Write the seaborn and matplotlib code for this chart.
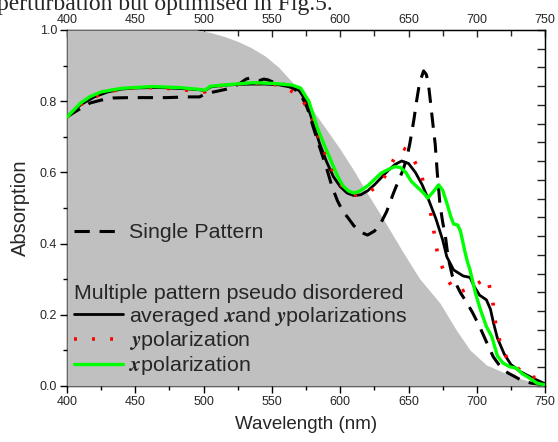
import numpy as np
import pandas as pd
import matplotlib
matplotlib.use("Agg")
import matplotlib.pyplot as plt
import seaborn as sns

sns.set_style("ticks")
plt.rcParams["font.family"] = ["Liberation Sans", "DejaVu Sans"]
plt.rcParams["mathtext.fontset"] = "stix"

# ---- data ----
gray_wl = [400, 480, 495, 505, 515, 525, 535, 545, 555, 565, 578, 590, 600, 610, 620,
           632, 645, 658, 673, 685, 695, 707, 724, 739, 750]
gray_val = [1.0, 1.0, 1.0, 0.993, 0.982, 0.968, 0.95, 0.927, 0.895, 0.853, 0.785, 0.72,
            0.665, 0.605, 0.54, 0.466, 0.382, 0.302, 0.233, 0.157, 0.101, 0.059, 0.031,
            0.012, 0.0]

single_wl = [400, 408, 417, 425, 434, 445, 456, 473, 488, 497, 502, 510, 517, 522, 527,
             531, 534, 538, 541, 544, 547, 550, 556, 561, 566, 571, 576, 580, 585, 590,
             594, 598, 602, 605, 610, 615, 620, 625, 629, 634, 639, 643, 646, 649, 651,
             654, 656, 658, 661, 663, 664.5, 666, 668, 669.5, 671, 673, 675, 677, 679,
             682, 685, 688, 693, 697, 702, 707, 712, 718, 723, 728, 734, 740, 746, 750]
single_val = [0.756, 0.775, 0.795, 0.803, 0.809, 0.81, 0.81, 0.81, 0.812, 0.812, 0.822,
              0.828, 0.834, 0.84, 0.851, 0.862, 0.865, 0.86, 0.858, 0.862, 0.86, 0.855,
              0.85, 0.845, 0.835, 0.82, 0.78, 0.73, 0.67, 0.612, 0.56, 0.52, 0.49, 0.476,
              0.45, 0.432, 0.424, 0.435, 0.452, 0.49, 0.542, 0.58, 0.607, 0.645, 0.682,
              0.75, 0.803, 0.85, 0.885, 0.875, 0.85, 0.8, 0.73, 0.68, 0.6, 0.51, 0.46,
              0.42, 0.36, 0.31, 0.285, 0.262, 0.232, 0.205, 0.167, 0.124, 0.082, 0.05,
              0.036, 0.026, 0.013, 0.008, 0.005, 0.004]

avg_wl = [400, 410, 420, 430, 440, 450, 460, 470, 480, 490, 497, 501, 505, 515, 525, 535,
          545, 555, 563, 570, 575, 580, 585, 590, 595, 600, 605, 610, 615, 620, 625, 630,
          635, 640, 645, 650, 655, 660, 665, 670, 675, 678, 683, 690, 695, 698, 702, 707,
          710, 712, 715, 720, 725, 732, 741, 750]
avg_val = [0.755, 0.79, 0.812, 0.826, 0.834, 0.837, 0.838, 0.838, 0.836, 0.834, 0.832,
           0.83, 0.84, 0.845, 0.847, 0.848, 0.848, 0.846, 0.84, 0.83, 0.80, 0.74, 0.68,
           0.63, 0.588, 0.56, 0.542, 0.535, 0.537, 0.548, 0.565, 0.585, 0.605, 0.622,
           0.632, 0.625, 0.600, 0.565, 0.52, 0.47, 0.41, 0.363, 0.326, 0.309, 0.305, 0.28,
           0.255, 0.242, 0.215, 0.18, 0.135, 0.09, 0.06, 0.04, 0.022, 0.006]

ypol_wl = [400, 410, 420, 430, 440, 450, 460, 470, 480, 490, 497, 501, 505, 515, 525, 535,
           545, 555, 563, 568, 573, 579, 585, 590, 595, 599, 603, 607, 612, 617, 622, 627,
           631, 634, 639, 643, 646, 650, 653, 656, 659, 664, 666, 668, 671, 674, 678, 684,
           688, 693, 697, 701, 705, 708, 710, 712, 713, 715, 718, 722, 726, 730, 734, 738,
           743, 748, 750]
ypol_val = [0.755, 0.79, 0.812, 0.826, 0.834, 0.837, 0.838, 0.837, 0.834, 0.83, 0.826,
            0.826, 0.838, 0.845, 0.848, 0.85, 0.85, 0.845, 0.831, 0.82, 0.799, 0.761, 0.69,
            0.644, 0.60, 0.574, 0.552, 0.539, 0.536, 0.539, 0.548, 0.56, 0.578, 0.598,
            0.635, 0.66, 0.668, 0.66, 0.64, 0.62, 0.598, 0.528, 0.49, 0.447, 0.377, 0.34,
            0.303, 0.265, 0.265, 0.272, 0.28, 0.289, 0.298, 0.303, 0.265, 0.228, 0.191,
            0.153, 0.107, 0.079, 0.062, 0.05, 0.037, 0.026, 0.024, 0.02, 0.008]

xpol_wl = [400, 410, 417, 425, 432, 440, 448, 463, 483, 497, 501, 505, 520, 536, 550, 557,
           565, 571, 577, 583, 588, 593, 598, 602, 606, 610, 614, 620, 625, 630, 635, 640,
           644, 648, 652, 656, 661, 664, 668, 672, 675, 678, 681, 683, 686, 688, 691, 693,
           695, 699, 703, 707, 711, 715, 719, 724, 729, 733, 737, 744, 750]
xpol_val = [0.755, 0.795, 0.813, 0.826, 0.831, 0.836, 0.838, 0.841, 0.838, 0.833, 0.831,
            0.842, 0.847, 0.852, 0.85, 0.848, 0.845, 0.837, 0.80, 0.728, 0.68, 0.635, 0.59,
            0.562, 0.548, 0.542, 0.547, 0.562, 0.58, 0.598, 0.608, 0.616, 0.614, 0.60,
            0.575, 0.56, 0.542, 0.528, 0.545, 0.565, 0.55, 0.514, 0.475, 0.455, 0.452,
            0.435, 0.382, 0.35, 0.326, 0.26, 0.21, 0.167, 0.138, 0.085, 0.065, 0.054, 0.05,
            0.035, 0.026, 0.008, 0.003]

x_ticks = [400, 450, 500, 550, 600, 650, 700, 750]
y_ticks = [0.0, 0.2, 0.4, 0.6, 0.8, 1.0]

label_single = "Single Pattern"
legend_title = "Multiple pattern pseudo disordered"
label_avg = r"averaged $\mathbfit{x}$and $\mathbfit{y}$polarizations"
label_y = r"$\mathbfit{y}$polarization"
label_x = r"$\mathbfit{x}$polarization"
top_text = "perturbation but optimised in Fig.5."

# ---- figure ----
fig = plt.figure(figsize=(5.58, 4.42), dpi=100)
ax = fig.add_axes([0.120, 0.1267, 0.857, 0.8055])

ax.fill_between(gray_wl, 0, gray_val, color="#c0c0c0", lw=0, zorder=0.5)

sns.lineplot(x=single_wl, y=single_val, ax=ax, color="black", linewidth=2.2, zorder=3)
l_single = ax.lines[-1]
l_single.set_dashes((5, 3.2))
sns.lineplot(x=avg_wl, y=avg_val, ax=ax, color="black", linewidth=2.0, zorder=4)
l_avg = ax.lines[-1]
sns.lineplot(x=ypol_wl, y=ypol_val, ax=ax, color="#ff0000", linewidth=2.6, zorder=5)
l_y = ax.lines[-1]
l_y.set_dashes((0.8, 4.2))
sns.lineplot(x=xpol_wl, y=xpol_val, ax=ax, color="#00ff00", linewidth=2.4, zorder=6)
l_x = ax.lines[-1]

ax.set_xlim(400, 750)
ax.set_ylim(0, 1.0)
ax.set_xticks(x_ticks)
ax.set_xticks(np.arange(400, 751, 25), minor=True)
ax.set_yticks(y_ticks)
ax.set_yticks(np.arange(0, 1.01, 0.1), minor=True)
ax.set_xticklabels([str(v) for v in x_ticks])
ax.set_yticklabels([f"{v:.1f}" for v in y_ticks])
ax.tick_params(axis="both", which="major", direction="out", length=5, width=1,
               labelsize=9, color="black", pad=2)
ax.tick_params(axis="both", which="minor", direction="out", length=3, width=1,
               color="black")
for s in ax.spines.values():
    s.set_color("black")
    s.set_linewidth(1.0)
    s.set_zorder(0.4)

top = ax.secondary_xaxis("top")
top.set_xticks(x_ticks)
top.set_xticks(np.arange(400, 751, 25), minor=True)
top.set_xticklabels([str(v) for v in x_ticks])
top.tick_params(which="major", direction="in", length=5, width=1, labelsize=9, pad=3)
top.tick_params(which="minor", direction="in", length=4, width=1)

right = ax.secondary_yaxis("right")
right.set_yticks(np.linspace(0, 1, 20))
right.set_yticklabels([])
right.tick_params(which="major", direction="in", length=6, width=1)
right.yaxis.set_minor_locator(matplotlib.ticker.NullLocator())

ax.set_xlabel("Wavelength (nm)", fontsize=13.5, labelpad=6)
ax.set_ylabel("Absorption", fontsize=14.5, labelpad=7)

leg1 = ax.legend([l_single], [label_single], loc="center left",
                 bbox_to_anchor=(0.015, 0.43), frameon=False, fontsize=15.4,
                 handlelength=2.3, handletextpad=0.25, borderpad=0, borderaxespad=0)
ax.add_artist(leg1)
leg2 = ax.legend([l_avg, l_y, l_x], [label_avg, label_y, label_x], title=legend_title,
                 title_fontsize=15.4, loc="lower left", bbox_to_anchor=(0.015, 0.025),
                 frameon=False, fontsize=15.4, handlelength=2.3, handletextpad=0.25,
                 borderpad=0, borderaxespad=0, labelspacing=0.08, alignment="left")

fig.text(-0.005, 0.9785, top_text, fontsize=17, family="Liberation Serif",
         ha="left", va="baseline")

fig.savefig("out.png", dpi=100)
